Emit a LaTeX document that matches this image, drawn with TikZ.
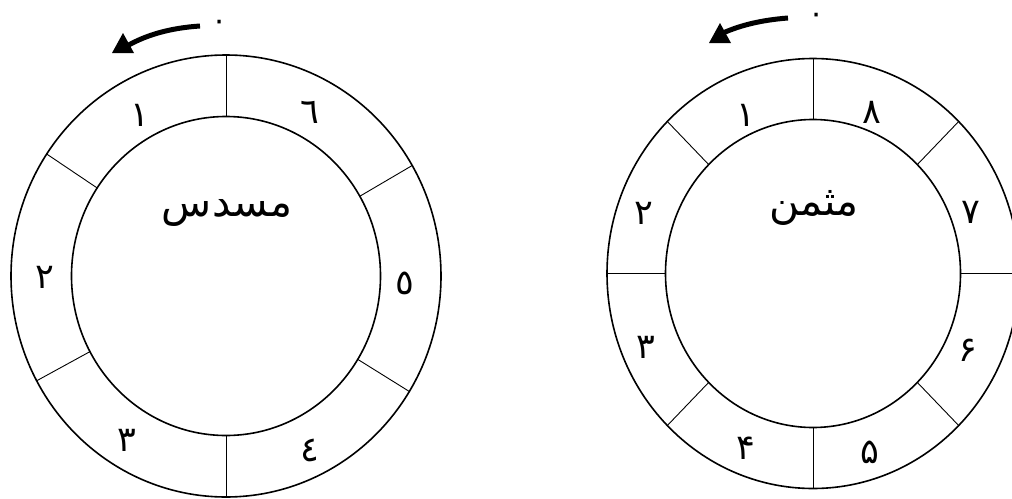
\documentclass[tikz,border=0pt]{standalone}
\usepackage{fontspec}
\usetikzlibrary{calc}
\newfontfamily\arabicfont[Script=Arabic]{DejaVu Sans}
\TeXXeTstate=1
\begin{document}
\begin{tikzpicture}[x=1pt,y=-1pt,
  ring/.style={line width=1.6pt},
  divider/.style={line width=0.9pt},
  digit/.style={font=\arabicfont\fontsize{35}{35}\selectfont, inner sep=0pt},
  zerodot/.style={font=\arabicfont\fontsize{30}{30}\selectfont, inner sep=0pt},
  title/.style={font=\arabicfont\fontsize{41}{41}\selectfont, inner sep=0pt},
  arrowline/.style={line width=5pt},
  arrowhead/.style={fill=black}]
\useasboundingbox[fill=white] (0,0) rectangle (1012,498);
% ---------- left ring (hexagon) ----------
\coordinate (L) at (226,276);
\draw[ring] (L) ellipse [x radius=215pt, y radius=221pt];
\draw[ring] (L) ellipse [x radius=154.5pt, y radius=159.5pt];
\foreach \t in {90,146.5,30,-31.5,208.3,270}
  \draw[divider] ($(L)+(-\t:154.5 and 159.5)$) -- ($(L)+(-\t:215 and 221)$);
\node[title] (lt) at (227,213) {\beginR مسدس\endR};
\node[digit] (l1) at (140,115) {١};
\node[digit] (l2) at (45,277) {٢};
\node[digit] (l3) at (127,440) {٣};
\node[digit] (l4) at (310,450) {٤};
\node[digit] (l5) at (405,283) {٥};
\node[digit] (l6) at (310,112) {٦};
\node[zerodot] (l0) at (220,25) {٠};
\coordinate (la1) at (200,26);
\coordinate (la2) at (127,46);
\draw[arrowline] (la1) .. controls (170,28) and (146,35) .. (la2);
\fill[arrowhead] (123,33) -- (134,53) -- (112,53) -- cycle;
% ---------- right ring (octagon) ----------
\coordinate (R) at (813,273.5);
\draw[ring] (R) ellipse [x radius=206pt, y radius=215pt];
\draw[ring] (R) ellipse [x radius=147.5pt, y radius=154pt];
\foreach \t in {0,45,...,315}
  \draw[divider] ($(R)+(\t:147.5 and 154)$) -- ($(R)+(\t:206 and 215)$);
\node[title] (rt) at (814,208) {\beginR مثمن\endR};
\node[digit] (r1) at (746,115) {۱};
\node[digit] (r2) at (644,213) {۲};
\node[digit] (r3) at (646,347) {۳};
\node[digit] (r4) at (746,448) {۴};
\node[digit] (r5) at (870,452) {۵};
\node[digit] (r6) at (968,350) {۶};
\node[digit] (r7) at (971,212) {۷};
\node[digit] (r8) at (872,112) {۸};
\node[zerodot] (r0) at (817,18) {٠};
\coordinate (ra1) at (788,18);
\coordinate (ra2) at (723,33);
\draw[arrowline] (ra1) .. controls (762,20) and (741,25) .. (ra2);
\fill[arrowhead] (720,23) -- (731,43) -- (709,43) -- cycle;
\end{tikzpicture}
\end{document}
